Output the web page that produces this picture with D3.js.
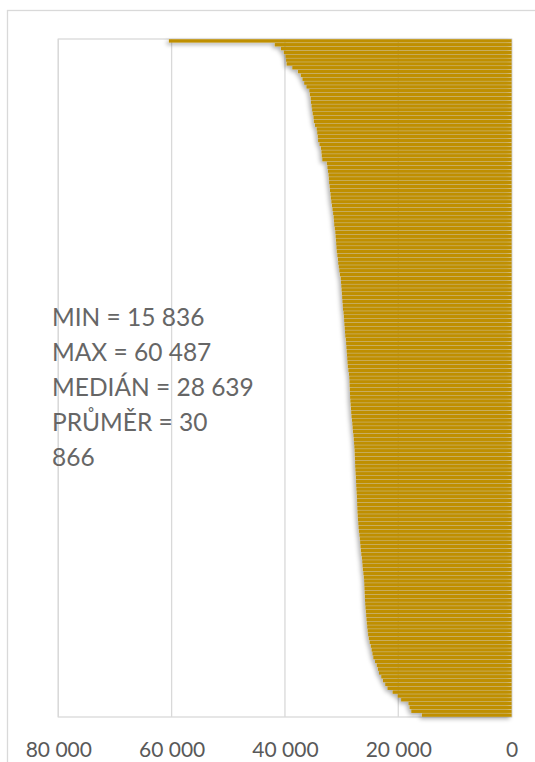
<!DOCTYPE html>
<html>
<head>
<meta charset="utf-8">
<script src="https://cdn.jsdelivr.net/npm/d3@7"></script>
<style>
  html, body { margin: 0; padding: 0; background: #fff; }
  svg { display: block; }
  text { font-family: Lato, "Open Sans", sans-serif; }
</style>
</head>
<body>
<svg id="chart" width="535" height="762"></svg>
<script>
// Values sorted from highest to lowest, one horizontal bar each
const values = [
  60487, 41800, 40700, 40200, 39900, 39800, 39700, 38700, 37700, 37200,
  36900, 36600, 36200, 35700, 35600, 35450, 35400, 35300, 35200, 35100,
  34950, 34900, 34700, 34400, 34300, 34200, 34150, 33900, 33650, 33550,
  33500, 33400, 32600, 32500, 32400, 32300, 32250, 32200, 32100, 32050,
  31950, 31900, 31800, 31700, 31600, 31500, 31400, 31350, 31300, 31200,
  31100, 31050, 31000, 30950, 30900, 30850, 30750, 30650, 30600, 30500,
  30400, 30300, 30150, 30100, 30050, 30000, 29950, 29900, 29850, 29800,
  29750, 29650, 29600, 29550, 29500, 29450, 29400, 29350, 29250, 29200,
  29150, 29100, 29050, 29000, 28950, 28900, 28800, 28700, 28639, 28600,
  28580, 28550, 28520, 28500, 28450, 28400, 28350, 28300, 28250, 28170,
  28100, 28050, 28000, 27900, 27850, 27800, 27750, 27700, 27680, 27650,
  27620, 27600, 27560, 27520, 27480, 27450, 27420, 27380, 27340, 27300,
  27270, 27250, 27220, 27190, 27150, 27110, 27050, 27000, 26950, 26850,
  26780, 26720, 26660, 26600, 26520, 26420, 26350, 26300, 26250, 26150,
  26080, 26020, 25990, 25960, 25930, 25900, 25870, 25830, 25780, 25720,
  25660, 25600, 25550, 25480, 25400, 25320, 25200, 25050, 24850, 24700,
  24550, 24400, 24100, 23800, 23600, 23400, 23000, 22700, 22300, 21900,
  21000, 20100, 19500, 18200, 18000, 17700, 15836
];

const tickValues = [0, 20000, 40000, 60000, 80000];

const statLines = [
  "MIN = 15 836",
  "MAX = 60 487",
  "MEDIÁN = 28 639",
  "PRŮMĚR = 30",
  "866"
];

const barColor = "#BF8F00";
const gridColor = "#d9d9d9";
const textColor = "#595959";

const plot = { left: 58.3, right: 511.6, top: 39, bottom: 717 };

const svg = d3.select("#chart");

// soft drop shadow under the bars
const defs = svg.append("defs");
const shadow = defs.append("filter")
  .attr("id", "barShadow")
  .attr("x", "-10%").attr("y", "-10%")
  .attr("width", "120%").attr("height", "120%");
shadow.append("feDropShadow")
  .attr("dx", -2).attr("dy", 2)
  .attr("stdDeviation", 2)
  .attr("flood-color", "#000")
  .attr("flood-opacity", 0.35);

// chart area frame
svg.append("rect")
  .attr("x", 7.5).attr("y", 10.5)
  .attr("width", 600).attr("height", 800)
  .attr("fill", "none")
  .attr("stroke", gridColor)
  .attr("stroke-width", 1.3);

// reversed value axis: 0 on the right
const x = d3.scaleLinear()
  .domain([0, 80000])
  .range([plot.right, plot.left]);

const y = d3.scaleBand()
  .domain(d3.range(values.length))
  .range([plot.top, plot.bottom])
  .paddingInner(0.12)
  .paddingOuter(0.06);

const fmt = d3.formatLocale({
  decimal: ",", thousands: "\u00a0", grouping: [3], currency: ["", " Kč"]
}).format(",d");

// vertical gridlines
svg.append("g")
  .selectAll("line")
  .data(tickValues)
  .join("line")
  .attr("x1", d => x(d)).attr("x2", d => x(d))
  .attr("y1", plot.top).attr("y2", plot.bottom)
  .attr("stroke", gridColor)
  .attr("stroke-width", 1.3);

// plot area border
svg.append("rect")
  .attr("x", plot.left).attr("y", plot.top)
  .attr("width", plot.right - plot.left)
  .attr("height", plot.bottom - plot.top)
  .attr("fill", "none")
  .attr("stroke", gridColor)
  .attr("stroke-width", 1.3);

// bars grow leftwards from zero
svg.append("g")
  .attr("filter", "url(#barShadow)")
  .selectAll("rect")
  .data(values)
  .join("rect")
  .attr("x", d => x(d))
  .attr("y", (d, i) => y(i))
  .attr("width", d => x(0) - x(d))
  .attr("height", y.bandwidth())
  .attr("fill", barColor);

// bottom axis labels
const axis = d3.axisBottom(x)
  .tickValues(tickValues)
  .tickFormat(fmt)
  .tickSize(0)
  .tickPadding(0);

const axisG = svg.append("g")
  .attr("transform", `translate(0, ${plot.bottom})`)
  .call(axis);
axisG.select(".domain").remove();
axisG.selectAll("text")
  .attr("y", 40)
  .attr("dy", null)
  .attr("fill", textColor)
  .style("font-size", "21px")
  .style("font-family", "Lato, 'Open Sans', sans-serif");

// summary statistics
svg.append("text")
  .attr("x", 52)
  .attr("y", 326)
  .attr("fill", "#666")
  .style("font-size", "24.5px")
  .selectAll("tspan")
  .data(statLines)
  .join("tspan")
  .attr("x", 52)
  .attr("dy", (d, i) => i === 0 ? 0 : 35)
  .text(d => d);
</script>
</body>
</html>
